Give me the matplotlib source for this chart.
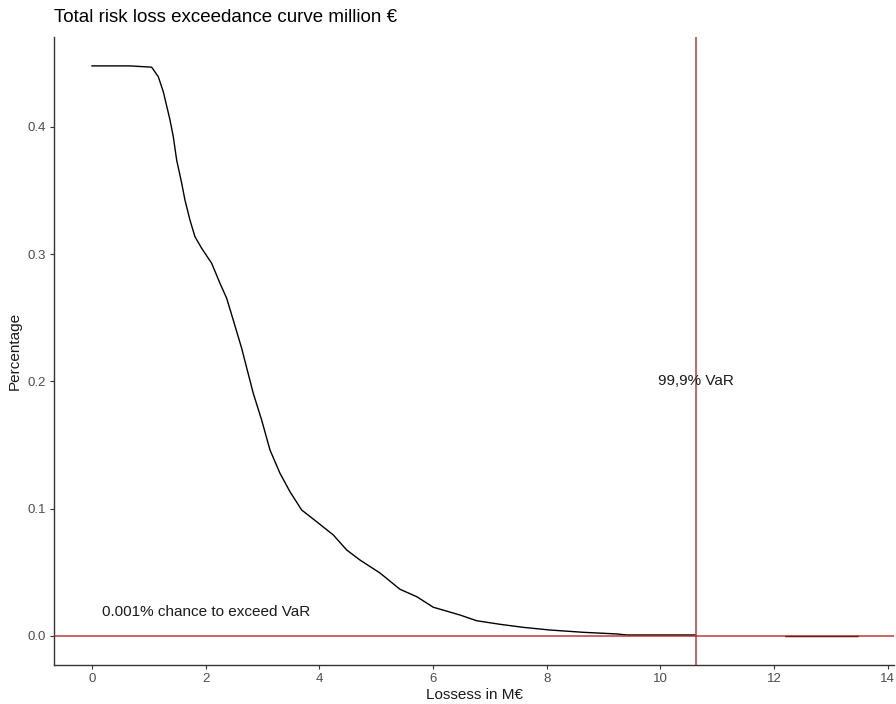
import numpy as np
import matplotlib
matplotlib.use("Agg")
import matplotlib.pyplot as plt

plt.rcParams['font.family'] = ['Liberation Sans', 'DejaVu Sans']

# Exceedance curve (loss in M€, exceedance probability)
loss = [0.0, 0.67, 1.05, 1.167, 1.255, 1.373, 1.431, 1.49, 1.578, 1.636, 1.724,
        1.812, 1.93, 2.106, 2.252, 2.37, 2.486, 2.634, 2.838, 2.986, 3.132,
        3.308, 3.484, 3.69, 3.954, 4.246, 4.482, 4.716, 5.068, 5.42, 5.714,
        6.006, 6.475, 6.769, 7.179, 7.589, 8.059, 8.645, 9.233, 9.409, 10.61,
        np.nan, 12.21, 13.48]
prob = [0.448, 0.448, 0.447, 0.4395, 0.4277, 0.4055, 0.3924, 0.374, 0.356,
        0.3426, 0.3269, 0.3138, 0.3047, 0.2929, 0.2772, 0.2654, 0.2483, 0.2261,
        0.1907, 0.1697, 0.1462, 0.1279, 0.1134, 0.099, 0.0898, 0.0794, 0.0676,
        0.0597, 0.0495, 0.0367, 0.0309, 0.0226, 0.0165, 0.012, 0.0092, 0.0068,
        0.0047, 0.0029, 0.0016, 0.0008, 0.0008,
        np.nan, -0.0004, -0.0004]

var_999 = 10.63
hline_y = 0.0
xticks = [0, 2, 4, 6, 8, 10, 12, 14]
yticks = [0.0, 0.1, 0.2, 0.3, 0.4]

W, H = 896, 704
fig = plt.figure(figsize=(W / 100, H / 100), dpi=100)
left, right, top, bottom = 53.9, 894.4, 37.4, 664.5
ax = fig.add_axes([left / W, 1 - bottom / H, (right - left) / W, (bottom - top) / H])

ax.plot(loss, prob, color='black', lw=1.0, zorder=2)
ax.axhline(hline_y, color='firebrick', alpha=0.75, lw=1.3, zorder=3)
ax.axvline(var_999, color='firebrick', alpha=0.75, lw=1.3, zorder=3)

ax.text(2.0, 0.019, "0.001% chance to exceed VaR", ha='center', va='center',
        fontsize=11, color='#1a1a1a', zorder=4)
ax.text(var_999, 0.2, "99,9% VaR", ha='center', va='center',
        fontsize=11, color='#1a1a1a', zorder=4)

ax.set_xlim(-0.67, 14.12)
ax.set_ylim(-0.0224, 0.4704)
ax.set_xticks(xticks)
ax.set_yticks(yticks)
ax.set_yticklabels([f"{v:.1f}" for v in yticks])

for s in ['top', 'right']:
    ax.spines[s].set_visible(False)
for s in ['left', 'bottom']:
    ax.spines[s].set_color('#333333')
    ax.spines[s].set_linewidth(1.0)
ax.tick_params(axis='both', colors='#333333', labelcolor='#4d4d4d',
               labelsize=9.5, length=3, width=0.8, pad=3)

ax.set_xlabel("Lossess in M€", fontsize=11, color='#1a1a1a', labelpad=2)
ax.set_ylabel("Percentage", fontsize=11, color='#1a1a1a', labelpad=4)
fig.text(left / W, 1 - 18 / H, "Total risk loss exceedance curve million €",
         ha='left', va='center', fontsize=13.5, color='black')

fig.savefig("out.png", dpi=100)
